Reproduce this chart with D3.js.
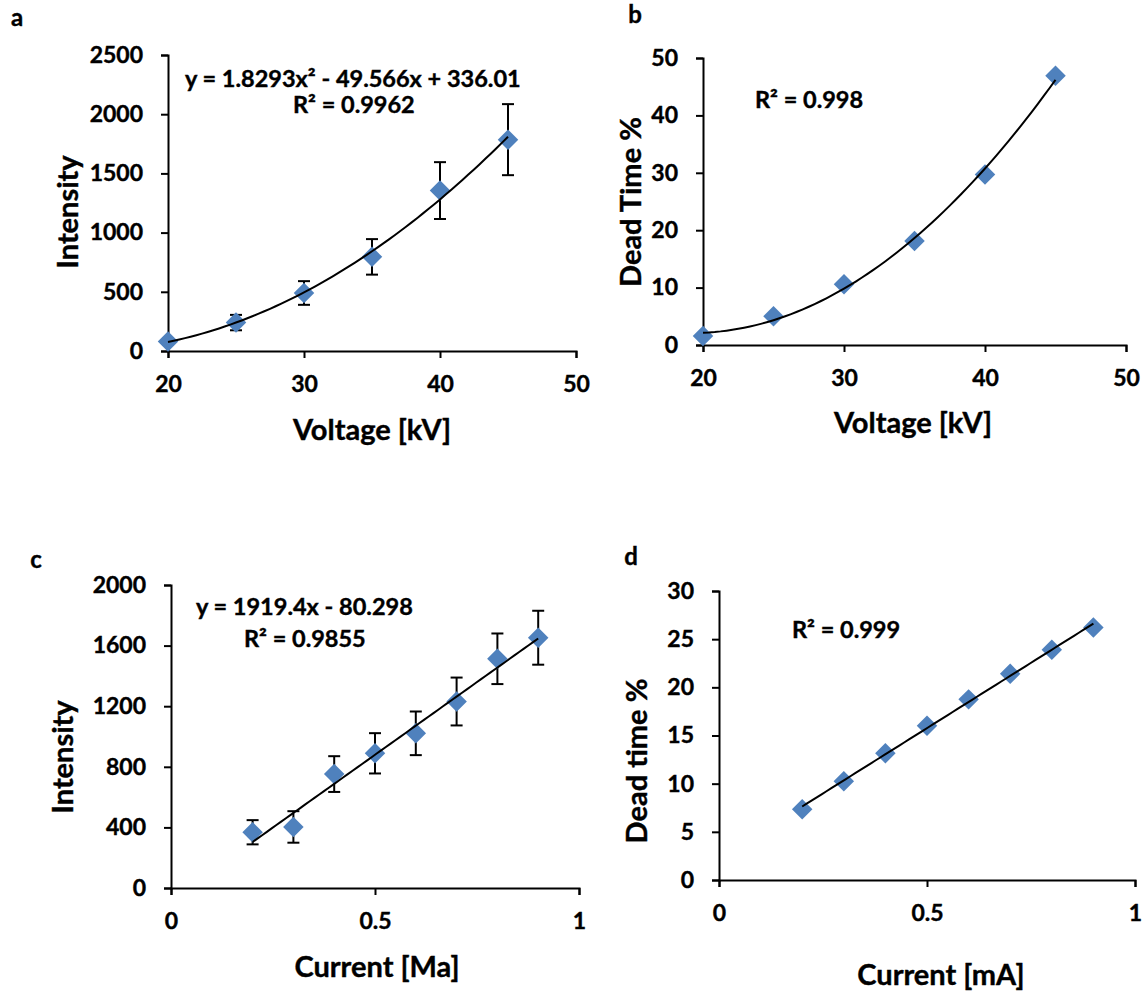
<!DOCTYPE html>
<html>
<head>
<meta charset="utf-8">
<script src="https://cdn.jsdelivr.net/npm/d3@7"></script>
<style>
  body { margin: 0; background: #fff; }
  svg text { font-family: Lato, "Open Sans", sans-serif; font-weight: bold; fill: #000; stroke: #000; stroke-width: 0.4px; }
  .axis path, .axis line { stroke: #000; stroke-width: 2; }
</style>
</head>
<body>
<script>
// panel a: intensity vs voltage
var voltA = [20, 25, 30, 35, 40, 45];
var intensityA = [80, 240, 490, 795, 1355, 1785];
var errA = [25, 65, 100, 150, 240, 300];
var coefA = [336.01, -49.566, 1.8293]; // c0 + c1 x + c2 x^2, as printed

// panel b: dead time vs voltage
var voltB = [20, 25, 30, 35, 40, 45];
var deadB = [1.55, 5.0, 10.6, 18.1, 29.7, 46.9];

// panel c: intensity vs current
var currC = [0.2, 0.3, 0.4, 0.5, 0.6, 0.7, 0.8, 0.9];
var intensityC = [368, 403, 752, 889, 1021, 1231, 1513, 1652];
var errC = [80, 104, 118, 133, 144, 158, 167, 178];
var coefC = [-80.298, 1919.4]; // as printed

// panel d: dead time vs current
var currD = [0.2, 0.3, 0.4, 0.5, 0.6, 0.7, 0.8, 0.9];
var deadD = [7.34, 10.24, 13.15, 16.0, 18.75, 21.4, 23.9, 26.2];

var voltTicks = [20, 30, 40, 50];
var currTicks = [0, 0.5, 1];

var W = 1145, H = 992;
var svg = d3.select("body").append("svg").attr("width", W).attr("height", H);

// least squares polynomial fit (degree 1 or 2)
function polyFit(xs, ys, deg) {
  var n = deg + 1, A = [], b = [];
  for (var i = 0; i < n; i++) {
    A.push([]);
    for (var j = 0; j < n; j++) A[i].push(d3.sum(xs, function(x) { return Math.pow(x, i + j); }));
    b.push(d3.sum(xs, function(x, k) { return ys[k] * Math.pow(x, i); }));
  }
  // gauss elimination
  for (var c = 0; c < n; c++) {
    for (var r = c + 1; r < n; r++) {
      var f = A[r][c] / A[c][c];
      for (var k = c; k < n; k++) A[r][k] -= f * A[c][k];
      b[r] -= f * b[c];
    }
  }
  var coef = new Array(n).fill(0);
  for (var r2 = n - 1; r2 >= 0; r2--) {
    var s = b[r2];
    for (var k2 = r2 + 1; k2 < n; k2++) s -= A[r2][k2] * coef[k2];
    coef[r2] = s / A[r2][r2];
  }
  return coef;
}

function evalPoly(coef, x) {
  return coef.reduce(function(acc, c, i) { return acc + c * Math.pow(x, i); }, 0);
}

var panels = [
  { letter: "a", lx: 17, ly: 18,
    x0: 168, x1: 576, yTop: 55, yBot: 351,
    xDomain: [20, 50], yDomain: [0, 2500], xTicks: voltTicks, yTicks: d3.range(0, 2501, 500),
    xs: voltA, ys: intensityA, err: errA, coef: coefA,
    xTitle: "Voltage [kV]", xtx: 372, xty: 430, yTitle: "Intensity", ytx: 68, yty: 212,
    notes: [{ t: "y = 1.8293x² - 49.566x + 336.01", x: 185, y: 79 }, { t: "R² = 0.9962", x: 293, y: 105 }] },
  { letter: "b", lx: 635, ly: 15,
    x0: 703, x1: 1126, yTop: 58, yBot: 345,
    xDomain: [20, 50], yDomain: [0, 50], xTicks: voltTicks, yTicks: d3.range(0, 51, 10),
    xs: voltB, ys: deadB, err: null, coef: polyFit(voltB, deadB, 2),
    xTitle: "Voltage [kV]", xtx: 913, xty: 423, yTitle: "Dead Time %", ytx: 631, yty: 202,
    notes: [{ t: "R² = 0.998", x: 755, y: 100 }] },
  { letter: "c", lx: 36, ly: 560,
    x0: 171, x1: 579, yTop: 585, yBot: 888,
    xDomain: [0, 1], yDomain: [0, 2000], xTicks: currTicks, yTicks: d3.range(0, 2001, 400),
    xs: currC, ys: intensityC, err: errC, coef: coefC,
    xTitle: "Current [Ma]", xtx: 377, xty: 967, yTitle: "Intensity", ytx: 63, yty: 757,
    notes: [{ t: "y = 1919.4x - 80.298", x: 196, y: 607 }, { t: "R² = 0.9855", x: 244, y: 639 }] },
  { letter: "d", lx: 631, ly: 557,
    x0: 719, x1: 1135, yTop: 591, yBot: 880,
    xDomain: [0, 1], yDomain: [0, 30], xTicks: currTicks, yTicks: d3.range(0, 31, 5),
    xs: currD, ys: deadD, err: null, coef: polyFit(currD, deadD, 1),
    xTitle: "Current [mA]", xtx: 941, xty: 975, yTitle: "Dead time %", ytx: 637, yty: 761,
    notes: [{ t: "R² = 0.999", x: 792, y: 630 }] }
];

var diamond = d3.symbol().type(d3.symbolSquare).size(210);

panels.forEach(function(p) {
  var x = d3.scaleLinear().domain(p.xDomain).range([p.x0, p.x1]);
  var y = d3.scaleLinear().domain(p.yDomain).range([p.yBot, p.yTop]);
  var g = svg.append("g");

  g.append("text").attr("x", p.lx).attr("y", p.ly).attr("dy", "0.35em")
    .attr("text-anchor", "middle").style("font-size", "24px").text(p.letter);

  var xAxis = g.append("g").attr("class", "axis")
    .attr("transform", "translate(0," + p.yBot + ")")
    .call(d3.axisBottom(x).tickValues(p.xTicks).tickSize(7).tickPadding(18).tickFormat(d3.format("")));
  var yAxis = g.append("g").attr("class", "axis")
    .attr("transform", "translate(" + p.x0 + ",0)")
    .call(d3.axisLeft(y).tickValues(p.yTicks).tickSize(7).tickPadding(18).tickFormat(d3.format("")));
  g.selectAll(".axis text").style("font-size", "23px").style("font-family", "Lato, sans-serif").attr("fill", "#000");
  xAxis.selectAll("text").attr("dy", "0.71em");

  g.append("text").attr("x", p.xtx).attr("y", p.xty).attr("dy", "0.35em")
    .attr("text-anchor", "middle").style("font-size", "29px").text(p.xTitle);
  g.append("text").attr("transform", "translate(" + p.ytx + "," + p.yty + ") rotate(-90)")
    .attr("dy", "0.35em").attr("text-anchor", "middle").style("font-size", "29px").text(p.yTitle);

  // error bars
  if (p.err) {
    var eb = g.append("g").attr("stroke", "#000").attr("stroke-width", 2);
    p.xs.forEach(function(xv, i) {
      var cx = x(xv), t = y(p.ys[i] + p.err[i]), b = y(p.ys[i] - p.err[i]);
      eb.append("line").attr("x1", cx).attr("x2", cx).attr("y1", t).attr("y2", b);
      eb.append("line").attr("x1", cx - 6).attr("x2", cx + 6).attr("y1", t).attr("y2", t);
      eb.append("line").attr("x1", cx - 6).attr("x2", cx + 6).attr("y1", b).attr("y2", b);
    });
  }

  g.append("g").selectAll("path").data(p.xs).join("path")
    .attr("d", diamond)
    .attr("transform", function(d, i) { return "translate(" + x(d) + "," + y(p.ys[i]) + ") rotate(45)"; })
    .attr("fill", "#4F81BD");

  // trend line over the data range
  var lo = d3.min(p.xs), hi = d3.max(p.xs);
  var curve = d3.range(0, 61).map(function(k) { var xv = lo + (hi - lo) * k / 60; return [xv, evalPoly(p.coef, xv)]; });
  g.append("path").datum(curve)
    .attr("d", d3.line().x(function(d) { return x(d[0]); }).y(function(d) { return y(d[1]); }))
    .attr("fill", "none").attr("stroke", "#000").attr("stroke-width", 2);

  p.notes.forEach(function(n) {
    g.append("text").attr("x", n.x).attr("y", n.y).attr("dy", "0.35em")
      .style("font-size", "23.5px").text(n.t);
  });
});
</script>
</body>
</html>
